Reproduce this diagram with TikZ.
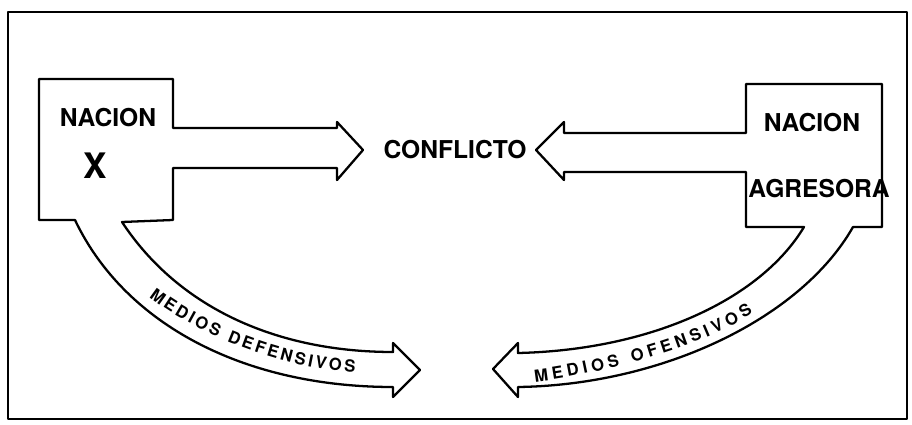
\documentclass[tikz,border=0pt]{standalone}
\usepackage{fontspec}
\setmainfont{TeX Gyre Heros}
\usetikzlibrary{decorations.text}

\begin{document}
\begin{tikzpicture}[x=0.02cm, y=-0.02cm,
				line width=1.3pt,
				line join=round,
				word/.style={font=\fontsize{14}{16}\selectfont\bfseries, inner sep=0pt},
				means/.style={decorate, decoration={text along path, text align=fit to path,
					text={|\fontsize{9.5}{11}\selectfont\bfseries|#1}}}]
				\useasboundingbox (0,0) rectangle (912,425);
				\draw[line width=1pt] (8,12) rectangle (907,419);
				% nacion X with its two arrows
				\draw (39,79) -- (173,79) -- (173,128) -- (337,128) -- (337,122) -- (363,150) -- (337,180) -- (337,168) -- (173,168) -- (173,220) -- (122,222)
					.. controls (180,310) and (280,352) .. (393,352) -- (393,343) -- (420,370) -- (393,397) -- (393,387)
					.. controls (245,387) and (125,325) .. (75,220) -- (39,220) -- cycle;
				% nacion agresora with its two arrows
				\draw (882,84) -- (746,84) -- (746,133) -- (564,133) -- (564,122) -- (536,150) -- (564,180) -- (564,172) -- (746,172) -- (746,227) -- (804,227)
					.. controls (760,300) and (650,350) .. (518,353) -- (518,343) -- (493,369) -- (518,397) -- (518,387)
					.. controls (660,385) and (800,320) .. (853,227) -- (882,227) -- cycle;
				\node at (108,118) (nacx) [word] {NACION};
				\node at (95,166) (x) [word, font=\fontsize{20}{22}\selectfont\bfseries] {X};
				\node at (455,150) (conflicto) [word] {CONFLICTO};
				\node at (812,123) (nacag) [word] {NACION};
				\node at (819,189) (agresora) [word] {AGRESORA};
				\path[means={MEDIOS DEFENSIVOS}] (149,297) .. controls (200,336) and (280,367) .. (355,373);
				\path[means={MEDIOS OFENSIVOS}] (535,382) .. controls (600,374) and (700,348) .. (753,313);
			\end{tikzpicture}
\end{document}
